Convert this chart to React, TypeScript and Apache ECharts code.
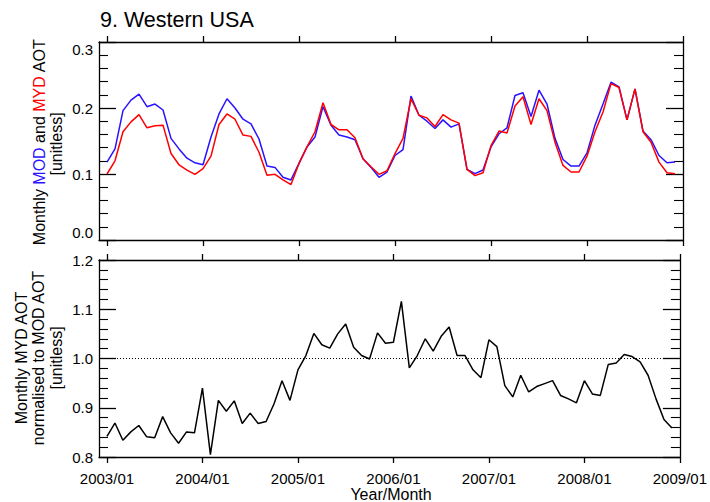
import React, { useEffect, useRef } from "react";
import * as echarts from "echarts";

const FONT = '"Liberation Sans", Arial, Helvetica, sans-serif';

const START_YEAR = 2003;
const END_YEAR = 2009;
const FIRST_CATEGORY = "2002/12";
const LAST_CATEGORY = "2009/01";

const TITLE = "9. Western USA";
const X_NAME = "Year/Month";

// MODIS Terra (MOD) monthly AOT, 2003/01 .. 2008/12
const MOD = [
  0.118, 0.138, 0.196, 0.212, 0.221, 0.202, 0.206, 0.197, 0.154, 0.138, 0.124, 0.117,
  0.114, 0.156, 0.191, 0.214, 0.2, 0.183, 0.176, 0.153, 0.112, 0.11, 0.095, 0.091,
  0.116, 0.141, 0.156, 0.202, 0.174, 0.159, 0.156, 0.152, 0.123, 0.11, 0.095, 0.103,
  0.128, 0.137, 0.218, 0.189, 0.18, 0.169, 0.182, 0.171, 0.176, 0.107, 0.1005, 0.106,
  0.141, 0.161, 0.17, 0.219, 0.223, 0.187, 0.227, 0.206, 0.154, 0.122, 0.112, 0.112,
  0.132, 0.174, 0.206, 0.239, 0.232, 0.182, 0.229, 0.165, 0.152, 0.128, 0.117, 0.118,
];

// MODIS Aqua (MYD) monthly AOT, 2003/01 .. 2008/12
const MYD = [
  0.1, 0.12, 0.164, 0.179, 0.19, 0.17, 0.173, 0.174, 0.131, 0.114, 0.106, 0.0995,
  0.108, 0.127, 0.175, 0.191, 0.183, 0.159, 0.157, 0.133, 0.098, 0.0995, 0.091, 0.084,
  0.116, 0.141, 0.164, 0.208, 0.175, 0.167, 0.167, 0.155, 0.123, 0.111, 0.0995, 0.105,
  0.131, 0.154, 0.214, 0.189, 0.185, 0.172, 0.19, 0.182, 0.177, 0.107, 0.0975, 0.102,
  0.143, 0.165, 0.162, 0.203, 0.217, 0.175, 0.214, 0.196, 0.148, 0.113, 0.103, 0.103,
  0.127, 0.164, 0.194, 0.237, 0.231, 0.182, 0.229, 0.164, 0.148, 0.118, 0.102, 0.1005,
];

// MYD AOT normalised to MOD AOT, 2003/01 .. 2008/12
const RATIO = [
  0.842, 0.869, 0.834, 0.851, 0.864, 0.841, 0.839, 0.882, 0.849, 0.828, 0.851, 0.849,
  0.94, 0.805, 0.915, 0.893, 0.914, 0.868, 0.889, 0.868, 0.872, 0.908, 0.955, 0.915,
  0.977, 1.006, 1.051, 1.028, 1.021, 1.05, 1.07, 1.023, 1.006, 0.999, 1.052, 1.031,
  1.033, 1.116, 0.981, 1.006, 1.04, 1.015, 1.045, 1.064, 1.006, 1.006, 0.977, 0.961,
  1.038, 1.024, 0.945, 0.922, 0.966, 0.932, 0.943, 0.949, 0.955, 0.925, 0.918, 0.91,
  0.955, 0.928, 0.925, 0.988, 0.991, 1.008, 1.004, 0.993, 0.966, 0.918, 0.876, 0.859,
];

const REFERENCE_LEVEL = 1.0;

const CATEGORIES: string[] = [FIRST_CATEGORY];
for (let y = START_YEAR; y < END_YEAR; y++) {
  for (let m = 1; m <= 12; m++) {
    CATEGORIES.push(`${y}/${String(m).padStart(2, "0")}`);
  }
}
CATEGORIES.push(LAST_CATEGORY);

const pad = (arr: number[]) => [null, ...arr, null];
const isJan = (_i: number, v: string) => v.endsWith("/01");

const AXIS_COLOR = "#000";
const AXIS_W = 1.3;
const BLUE = "#2a12ff";
const RED = "#ff0000";

function xAxis(gridIndex: number, position: "top" | "bottom", showLabel: boolean) {
  return {
    type: "category",
    gridIndex,
    position,
    data: CATEGORIES,
    boundaryGap: false,
    axisLine: { show: true, onZero: false, lineStyle: { color: AXIS_COLOR, width: AXIS_W } },
    axisTick: {
      show: true,
      inside: false,
      length: 6,
      interval: isJan,
      lineStyle: { color: AXIS_COLOR, width: AXIS_W },
    },
    axisLabel: {
      show: showLabel,
      interval: isJan,
      margin: 14,
      color: "#000",
      fontSize: 15,
      fontFamily: FONT,
    },
    splitLine: { show: false },
  };
}

function yAxis(
  gridIndex: number,
  position: "left" | "right",
  min: number,
  max: number,
  showLabel: boolean,
  shiftEnds: boolean
) {
  const label: any = {
    show: showLabel,
    formatter: (v: number) => v.toFixed(1),
    margin: 6,
    color: "#000",
    fontSize: 15,
    fontFamily: FONT,
  };
  if (shiftEnds) {
    label.verticalAlignMinLabel = "bottom";
    label.verticalAlignMaxLabel = "top";
  }
  return {
    type: "value",
    gridIndex,
    position,
    min,
    max,
    interval: 0.1,
    axisLine: { show: true, onZero: false, lineStyle: { color: AXIS_COLOR, width: AXIS_W } },
    axisTick: { show: true, inside: true, length: 17, lineStyle: { color: AXIS_COLOR, width: AXIS_W } },
    minorTick: { show: true, splitNumber: 5, length: 9, lineStyle: { color: AXIS_COLOR, width: 1.1 } },
    axisLabel: label,
    splitLine: { show: false },
    minorSplitLine: { show: false },
  };
}

export default function App() {
  const ref = useRef<HTMLDivElement>(null);

  useEffect(() => {
    if (!ref.current) return;
    const chart = echarts.init(ref.current, undefined, { renderer: "svg" });
    const nameStyle = { fontSize: 16, fontFamily: FONT, fill: "#000" };
    chart.setOption({
      animation: false,
      backgroundColor: "#fff",
      grid: [
        { left: 99, right: 27, top: 42, height: 198 },
        { left: 99, right: 27, top: 260, height: 197 },
      ],
      xAxis: [
        xAxis(0, "bottom", false),
        xAxis(0, "top", false),
        xAxis(1, "bottom", true),
        xAxis(1, "top", false),
      ],
      yAxis: [
        yAxis(0, "left", 0, 0.3, true, true),
        yAxis(0, "right", 0, 0.3, false, false),
        yAxis(1, "left", 0.8, 1.2, true, false),
        yAxis(1, "right", 0.8, 1.2, false, false),
      ],
      series: [
        {
          name: "MOD",
          type: "line",
          xAxisIndex: 0,
          yAxisIndex: 0,
          data: pad(MOD),
          symbol: "none",
          showSymbol: false,
          lineStyle: { color: BLUE, width: 1.5 },
          itemStyle: { color: BLUE },
        },
        {
          name: "MYD",
          type: "line",
          xAxisIndex: 0,
          yAxisIndex: 0,
          data: pad(MYD),
          symbol: "none",
          showSymbol: false,
          lineStyle: { color: RED, width: 1.5 },
          itemStyle: { color: RED },
        },
        {
          name: "Ratio",
          type: "line",
          xAxisIndex: 2,
          yAxisIndex: 2,
          data: pad(RATIO),
          symbol: "none",
          showSymbol: false,
          lineStyle: { color: "#000", width: 1.5 },
          itemStyle: { color: "#000" },
          markLine: {
            silent: true,
            symbol: ["none", "none"],
            label: { show: false },
            lineStyle: { color: "#000", width: 1, type: [1, 2] },
            data: [{ yAxis: REFERENCE_LEVEL }],
          },
        },
      ],
      graphic: [
        {
          type: "text",
          x: 100,
          y: 20,
          style: {
            text: TITLE,
            fontSize: 21.5,
            fontFamily: FONT,
            fill: "#000",
            align: "left",
            verticalAlign: "middle",
          },
        },
        {
          type: "text",
          x: 39,
          y: 142,
          rotation: Math.PI / 2,
          style: {
            text: "Monthly {b|MOD} and {r|MYD} AOT",
            ...nameStyle,
            align: "center",
            verticalAlign: "middle",
            rich: {
              b: { fill: BLUE, color: BLUE, fontSize: 16, fontFamily: FONT },
              r: { fill: RED, color: RED, fontSize: 16, fontFamily: FONT },
            },
          },
        },
        {
          type: "text",
          x: 56,
          y: 144,
          rotation: Math.PI / 2,
          style: { text: "[unitless]", ...nameStyle, align: "center", verticalAlign: "middle" },
        },
        {
          type: "text",
          x: 21,
          y: 358,
          rotation: Math.PI / 2,
          style: { text: "Monthly MYD AOT", ...nameStyle, align: "center", verticalAlign: "middle" },
        },
        {
          type: "text",
          x: 38.5,
          y: 358,
          rotation: Math.PI / 2,
          style: { text: "normalised to MOD AOT", ...nameStyle, align: "center", verticalAlign: "middle" },
        },
        {
          type: "text",
          x: 56,
          y: 358,
          rotation: Math.PI / 2,
          style: { text: "[unitless]", ...nameStyle, align: "center", verticalAlign: "middle" },
        },
        {
          type: "text",
          x: 391,
          y: 494,
          style: { text: X_NAME, ...nameStyle, align: "center", verticalAlign: "middle" },
        },
      ],
    });
    return () => chart.dispose();
  }, []);

  return (
    <div
      ref={ref}
      style={{ position: "absolute", left: 0, top: 0, width: 710, height: 502, background: "#fff" }}
    />
  );
}
